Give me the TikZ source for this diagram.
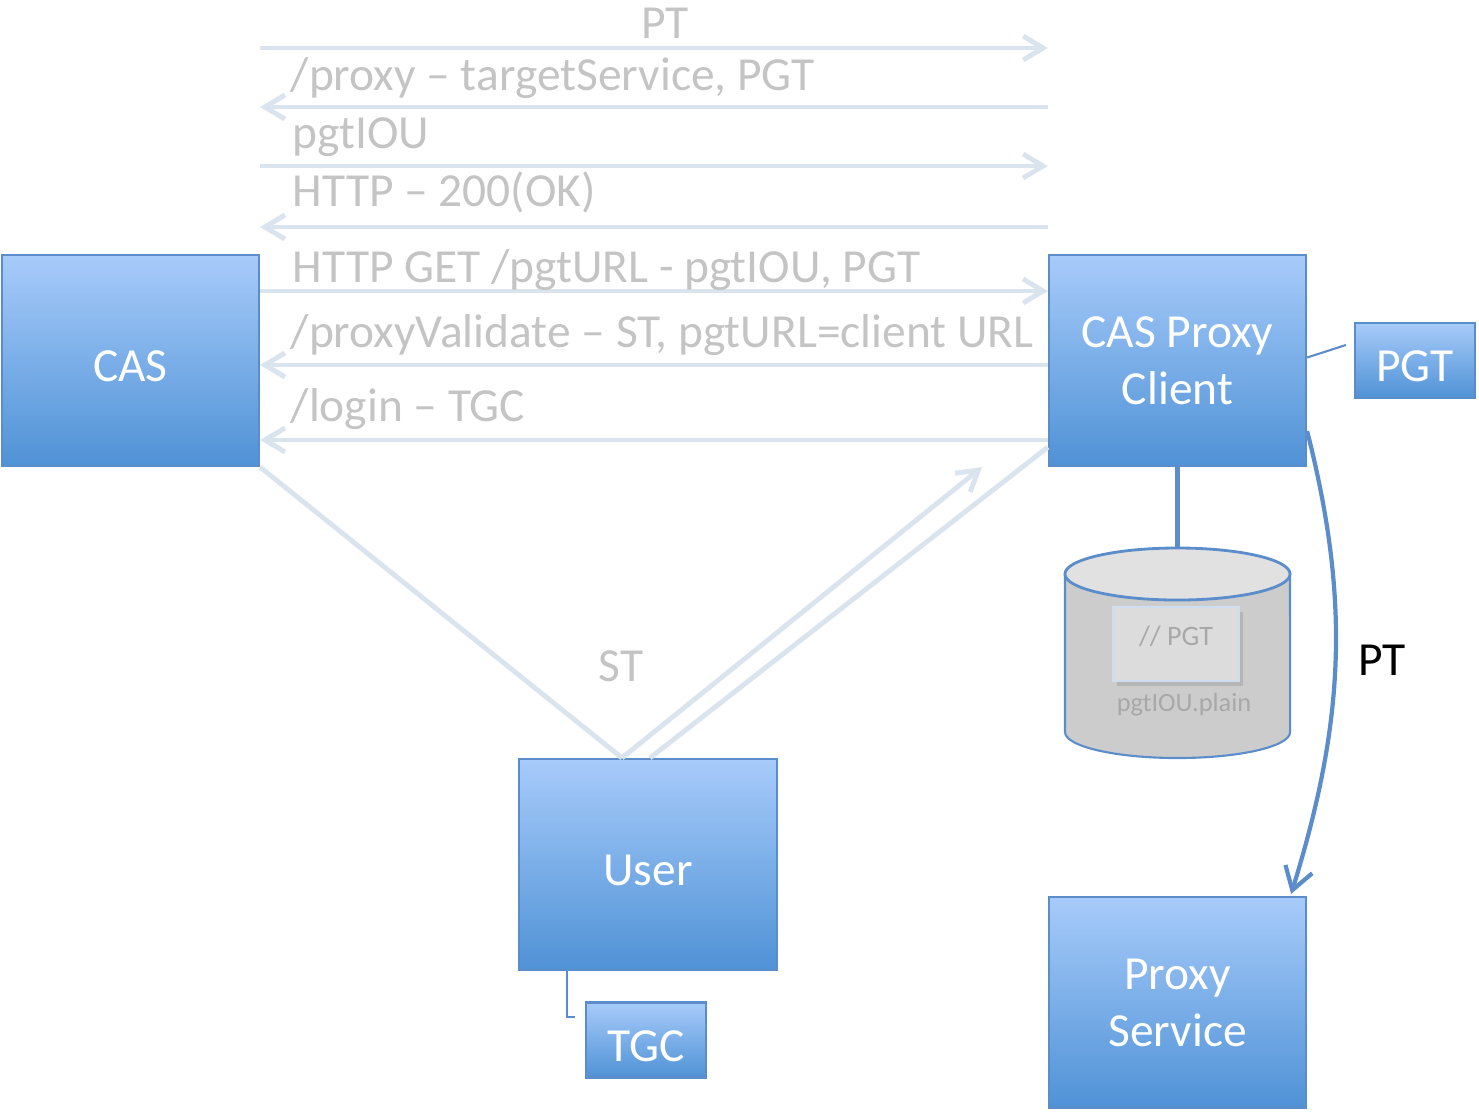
\documentclass[tikz,border=0pt]{standalone}
\usepackage{fontspec}
\setmainfont{Carlito}
\usetikzlibrary{arrows.meta,positioning,shadows}

\definecolor{boxtop}{HTML}{A7CBFA}
\definecolor{boxbottom}{HTML}{4F92D6}
\definecolor{boxline}{HTML}{5B8DCB}
\definecolor{msgline}{HTML}{DAE4EF}
\definecolor{msgtext}{HTML}{C4C4C4}
\definecolor{dbbody}{HTML}{CCCCCC}
\definecolor{dbcap}{HTML}{E1E1E1}
\definecolor{dbnote}{HTML}{DCDCDC}
\definecolor{dbtext}{HTML}{A8A8A8}

\tikzset{
  box/.style={draw=boxline, line width=0.6pt, top color=boxtop, bottom color=boxbottom,
    text=white, align=center, inner sep=0pt, font=\fontsize{13.5}{16.2}\selectfont,
    execute at begin node=\rule{0pt}{0.43cm}},
  bigbox/.style={box, minimum width=2.57cm, minimum height=2.11cm},
  smallbox/.style={box, minimum width=1.2cm, minimum height=0.75cm},
  msg/.style={draw=msgline, line width=1.4pt},
  fwd/.style={msg, -{Straight Barb[length=0.2cm,width=0.24cm]}},
  back/.style={msg, {Straight Barb[length=0.2cm,width=0.24cm]}-},
  msglabel/.style={text=msgtext, font=\fontsize{13.5}{16.2}\selectfont, inner sep=0pt},
  link/.style={draw=boxline, line width=0.6pt},
  dblabel/.style={text=dbtext, inner sep=0pt, font=\fontsize{8}{9.6}\selectfont},
}

\begin{document}
\begin{tikzpicture}[x=0.01cm, y=-0.01cm]
\useasboundingbox (0,0) rectangle (1479,1111);

% hosts
\node[bigbox] (CAS) at (130.5,360.5) {CAS};
\node[bigbox] (CPC) at (1177.5,360.5) {CAS Proxy\\Client};
\node[bigbox] (User) at (648,864.5) {User};
\node[bigbox] (PS) at (1177.5,1002.5) {Proxy\\Service};
\node[smallbox] (PGT) at (1415,360.5) {PGT};
\node[smallbox] (TGC) at (646,1040) {TGC};

% messages between CAS and the proxy client
\foreach \y/\dir in {48/fwd,107/back,166/fwd,227/back,291/fwd,365/back,440/back}
  \draw[\dir] (CAS.east |- 0,\y) -- (CPC.west |- 0,\y);

\node[msglabel, anchor=base] at (665,38) {PT};
\node[msglabel, anchor=base west] at (290,90) {/proxy – targetService, PGT};
\node[msglabel, anchor=base west] at (292,148) {pgtIOU};
\node[msglabel, anchor=base west] at (292,206) {HTTP – 200(OK)};
\node[msglabel, anchor=base west] at (292,282) {HTTP GET /pgtURL - pgtIOU, PGT};
\node[msglabel, anchor=base west] at (290,347) {/proxyValidate – ST, pgtURL=client URL};
\node[msglabel, anchor=base west] at (290,421) {/login – TGC};

% service ticket
\coordinate (vtip) at ([xshift=-0.26cm]User.north);
\coordinate (sttip) at (982,467);
\draw[msg] (CAS.south east) -- (vtip);
\draw[fwd] (vtip) -- (sttip);
\draw[msg] ([xshift=0.02cm]User.north) -- ([yshift=0.2cm]CPC.south west);
\node[msglabel, anchor=base] at (621,681) {ST};

% tickets held
\draw[link] ([yshift=0.03cm]CPC.east) -- ([xshift=-0.08cm,yshift=0.155cm]PGT.west);
\draw[link] ([xshift=-0.81cm]User.south) |- ([xshift=-0.1cm,yshift=0.23cm]TGC.west);

% pgtIOU store
\coordinate (dbtop) at (1177.5,548);
\draw[link, line width=1.2pt] (CPC.south) -- (dbtop);
\fill[dbbody] (1065,574) -- (1065,732)
  arc[start angle=180, end angle=360, x radius=1.125cm, y radius=0.26cm] -- (1290,574) -- cycle;
\draw[link] (1065,574) -- (1065,732)
  arc[start angle=180, end angle=360, x radius=1.125cm, y radius=0.26cm] -- (1290,574);
\filldraw[link, line width=0.8pt, fill=dbcap] (1177.5,574) ellipse[x radius=1.125cm, y radius=0.26cm];
\node[draw=boxline!30, fill=dbnote, line width=0.5pt, minimum width=1.26cm, minimum height=0.74cm,
  drop shadow={opacity=0.3, shadow xshift=0.04cm, shadow yshift=-0.05cm}] (pgtnote) at (1176,644) {};
\node[dblabel] at ([yshift=0.08cm]pgtnote.center) {// PGT};
\node[dblabel, font=\fontsize{7.5}{9}\selectfont] at (1184,705) {pgtIOU.plain};

% proxy ticket to the service
\draw[draw=boxline, line width=1.2pt, -{Straight Barb[length=0.22cm,width=0.28cm]}]
  ([yshift=0.36cm]CPC.south east) .. controls (1350,600) and (1345,720) .. ([xshift=-0.16cm,yshift=0.02cm]PS.north east);
\node[anchor=base, inner sep=0pt, font=\fontsize{13.5}{16.2}\selectfont] at (1382,675) {PT};
\end{tikzpicture}
\end{document}
